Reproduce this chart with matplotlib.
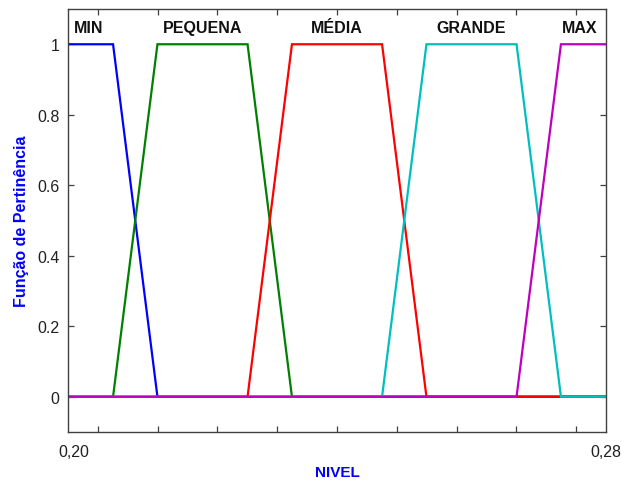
import matplotlib
matplotlib.use("Agg")
import matplotlib.pyplot as plt
import numpy as np

plt.rcParams['font.family'] = ['Liberation Sans', 'DejaVu Sans']

# membership functions (trapezoids) over NIVEL
names = ["MIN", "PEQUENA", "MÉDIA", "GRANDE", "MAX"]
colors = ["#0000ff", "#008000", "#ff0000", "#00bfbf", "#bf00bf"]
x_min = [0.200, 0.2067, 0.2133, 0.280]
y_min = [1, 1, 0, 0]
x_peq = [0.200, 0.2067, 0.2133, 0.2267, 0.2333, 0.280]
y_peq = [0, 0, 1, 1, 0, 0]
x_med = [0.200, 0.2267, 0.2333, 0.2467, 0.2533, 0.280]
y_med = [0, 0, 1, 1, 0, 0]
x_gra = [0.200, 0.2467, 0.2533, 0.2667, 0.2733, 0.280]
y_gra = [0, 0, 1, 1, 0, 0]
x_max = [0.200, 0.2667, 0.2733, 0.280]
y_max = [0, 0, 1, 1]

# where the set names are written
label_x = [0.203, 0.220, 0.240, 0.260, 0.2761]
label_y = 1.047

xs = [x_min, x_peq, x_med, x_gra, x_max]
ys = [y_min, y_peq, y_med, y_gra, y_max]

fig = plt.figure(figsize=(6.22, 4.81), dpi=100)
ax = fig.add_axes([68 / 622, 48 / 481, 538 / 622, 423 / 481])

for x, y, c in zip(xs, ys, colors):
    ax.plot(x, y, color=c, lw=1.6, solid_joinstyle="miter")

for name, lx in zip(names, label_x):
    ax.text(lx, label_y, name, ha="center", va="center",
            fontsize=11.5, fontweight="bold", color="#101010")

ax.set_xlim(0.20, 0.28)
ax.set_ylim(-0.1, 1.1)

# x: only the ends are labelled, plus small unlabelled ticks
ax.set_xticks([0.2009, 0.28])
ax.set_xticklabels(["0,20", "0,28"])
ax.set_xticks(0.20 + 0.08 * (np.arange(9) + 0.5) / 9, minor=True)
ax.tick_params(axis="x", which="major", length=0, pad=9)
ax.tick_params(axis="x", which="minor", direction="in", length=4,
               top=True, width=0.9, color="#404040")

ax.set_yticks([0, 0.2, 0.4, 0.6, 0.8, 1])
ax.set_yticklabels(["0", "0.2", "0.4", "0.6", "0.8", "1"])
ax.tick_params(axis="y", direction="in", length=4, right=True, width=0.9,
               color="#404040", pad=6)
ax.tick_params(labelsize=11.5, labelcolor="#202020")

for s in ax.spines.values():
    s.set_color("#404040")
    s.set_linewidth(1.0)

ax.set_xlabel("NIVEL", fontsize=11, fontweight="bold", color="#0000ff",
              labelpad=4)
ax.set_ylabel("Função de Pertinência", fontsize=11.5, fontweight="bold",
              color="#0000ff", labelpad=6)

fig.savefig("out.png", dpi=100)
